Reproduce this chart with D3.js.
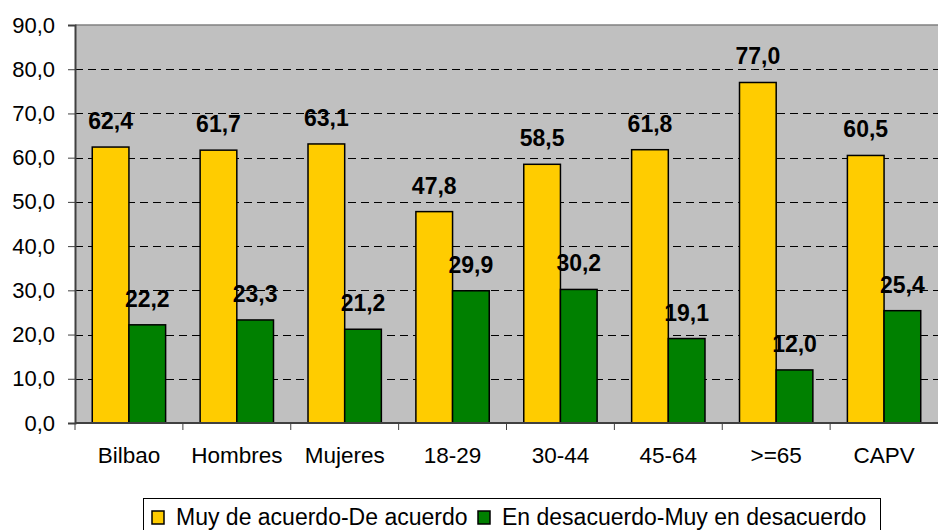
<!DOCTYPE html>
<html>
<head>
<meta charset="utf-8">
<script src="https://cdn.jsdelivr.net/npm/d3@7"></script>
<style>
  body { margin: 0; background: #fff; }
  svg { display: block; font-family: "Liberation Sans", Arial, sans-serif; }
</style>
</head>
<body>
<div id="chart"></div>
<script>
const categories = ["Bilbao", "Hombres", "Mujeres", "18-29", "30-44", "45-64", ">=65", "CAPV"];
const acuerdo = [62.4, 61.7, 63.1, 47.8, 58.5, 61.8, 77.0, 60.5];
const desacuerdo = [22.2, 23.3, 21.2, 29.9, 30.2, 19.1, 12.0, 25.4];
const seriesNames = ["Muy de acuerdo-De acuerdo", "En desacuerdo-Muy en desacuerdo"];
const colors = ["#ffcc00", "#008000"];
const yTicks = d3.range(0, 91, 10);

const width = 938, height = 530;
const margin = {top: 25, right: 0, bottom: 107, left: 75};
const fmt = d => d.toFixed(1).replace(".", ",");

const svg = d3.select("#chart").append("svg")
    .attr("width", width)
    .attr("height", height);

const x = d3.scaleBand()
    .domain(categories)
    .range([margin.left, width - margin.right])
    .paddingInner(0.32)
    .paddingOuter(0.16);

const x1 = d3.scaleBand()
    .domain([0, 1])
    .range([0, x.bandwidth()]);

const y = d3.scaleLinear()
    .domain([0, 90])
    .range([height - margin.bottom, margin.top]);

// plot background
svg.append("rect")
    .attr("x", margin.left)
    .attr("y", y(90))
    .attr("width", width - margin.right - margin.left)
    .attr("height", y(0) - y(90))
    .attr("fill", "#c0c0c0");

svg.append("line")
    .attr("x1", margin.left).attr("x2", width)
    .attr("y1", y(90)).attr("y2", y(90))
    .attr("stroke", "#808080").attr("stroke-width", 1.5);

// dashed gridlines
svg.append("g")
    .selectAll("line")
    .data(yTicks.filter(d => d > 0 && d < 90))
    .join("line")
    .attr("x1", margin.left).attr("x2", width)
    .attr("y1", d => Math.round(y(d)) + 0.5).attr("y2", d => Math.round(y(d)) + 0.5)
    .attr("stroke", "#000")
    .attr("stroke-dasharray", "8,5");

// y axis
const yAxis = svg.append("g")
    .attr("transform", `translate(${margin.left},0)`)
    .call(d3.axisLeft(y).tickValues(yTicks).tickSize(7).tickPadding(13).tickFormat(fmt));
yAxis.select(".domain").attr("stroke", "#404040").attr("stroke-width", 2);
yAxis.selectAll(".tick line").attr("stroke", "#404040");
yAxis.selectAll("text")
    .attr("font-size", 22)
    .attr("fill", "#000")
    .attr("font-family", "Liberation Sans, Arial, sans-serif");

// bars
const series = [acuerdo, desacuerdo];
const groups = svg.append("g")
    .selectAll("g")
    .data(categories)
    .join("g")
    .attr("transform", d => `translate(${x(d)},0)`);

groups.selectAll("rect")
    .data((d, i) => series.map((s, k) => ({k, v: s[i]})))
    .join("rect")
    .attr("x", d => x1(d.k))
    .attr("y", d => y(d.v))
    .attr("width", x1.bandwidth())
    .attr("height", d => y(0) - y(d.v))
    .attr("fill", d => colors[d.k])
    .attr("stroke", "#000")
    .attr("stroke-width", 1.5);

groups.selectAll("text")
    .data((d, i) => series.map((s, k) => ({k, v: s[i]})))
    .join("text")
    .attr("x", d => x1(d.k) + x1.bandwidth() / 2)
    .attr("y", d => y(d.v) - 18)
    .attr("text-anchor", "middle")
    .attr("font-size", 23)
    .attr("font-weight", "bold")
    .text(d => fmt(d.v));

// x axis
const xAxis = svg.append("g")
    .attr("transform", `translate(0,${y(0)})`);
xAxis.append("line")
    .attr("x1", margin.left).attr("x2", width)
    .attr("stroke", "#404040").attr("stroke-width", 2);
const step = x.step();
xAxis.selectAll(".tk")
    .data(categories)
    .join("line")
    .attr("class", "tk")
    .attr("x1", d => x(d) - x.paddingInner() * step / 2)
    .attr("x2", d => x(d) - x.paddingInner() * step / 2)
    .attr("y1", 0).attr("y2", 7)
    .attr("stroke", "#404040");
xAxis.selectAll("text")
    .data(categories)
    .join("text")
    .attr("x", d => x(d) + x.bandwidth() / 2)
    .attr("y", 40)
    .attr("text-anchor", "middle")
    .attr("font-size", 22.5)
    .text(d => d);

// legend
const legend = svg.append("g");
legend.append("rect")
    .attr("x", 143.5).attr("y", 498.5)
    .attr("width", 737).attr("height", 40)
    .attr("fill", "#fff")
    .attr("stroke", "#000");
const legendX = [152, 478];
const items = legend.selectAll("g")
    .data(seriesNames)
    .join("g")
    .attr("transform", (d, i) => `translate(${legendX[i]},511)`);
items.append("rect")
    .attr("width", 12).attr("height", 13)
    .attr("fill", (d, i) => colors[i])
    .attr("stroke", "#000").attr("stroke-width", 1.5);
items.append("text")
    .attr("x", 24).attr("y", 14)
    .attr("font-size", 23)
    .text(d => d);
</script>
</body>
</html>
